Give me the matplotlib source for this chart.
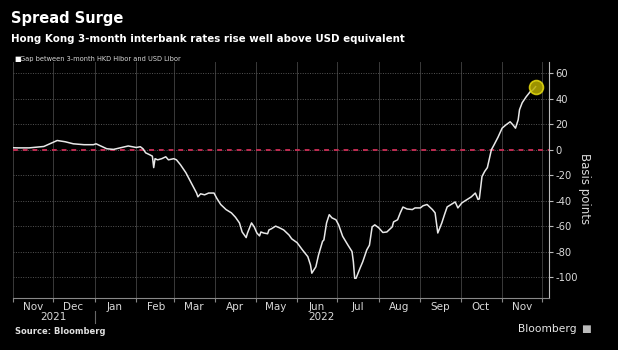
# -*- coding: utf-8 -*-
"""
plot.py

Recrea el grafico "Spread Surge" (Bloomberg): diferencia entre la Hibor
a 3 meses de HKD y la Libor en USD, en puntos basicos.
Guarda la figura como out.png (618x350 px).
"""

import pandas as pd
import matplotlib
matplotlib.use('Agg')
import matplotlib.pyplot as plt
import matplotlib.dates as mdates
import matplotlib.transforms as mtransforms

# --- Datos ---
fechas = [
    '2021-11-01', '2021-11-05', '2021-11-13', '2021-11-24', '2021-12-04',
    '2021-12-10', '2021-12-16', '2021-12-24', '2021-12-31', '2022-01-02',
    '2022-01-10', '2022-01-15', '2022-01-21', '2022-01-26', '2022-02-01',
    '2022-02-04', '2022-02-06', '2022-02-08', '2022-02-11', '2022-02-13',
    '2022-02-14', '2022-02-15', '2022-02-17', '2022-02-20', '2022-02-23',
    '2022-02-25', '2022-03-01', '2022-03-03', '2022-03-06', '2022-03-10',
    '2022-03-14', '2022-03-18', '2022-03-19', '2022-03-21', '2022-03-24',
    '2022-03-27', '2022-03-31', '2022-04-02', '2022-04-05', '2022-04-09',
    '2022-04-13', '2022-04-16', '2022-04-19', '2022-04-21', '2022-04-24',
    '2022-04-25', '2022-04-28', '2022-04-30', '2022-05-02', '2022-05-04',
    '2022-05-05', '2022-05-07', '2022-05-10', '2022-05-11', '2022-05-13',
    '2022-05-16', '2022-05-19', '2022-05-22', '2022-05-26', '2022-05-28',
    '2022-06-01', '2022-06-05', '2022-06-09', '2022-06-11', '2022-06-12',
    '2022-06-15', '2022-06-17', '2022-06-20', '2022-06-21', '2022-06-23',
    '2022-06-25', '2022-06-27', '2022-06-30', '2022-07-02', '2022-07-05',
    '2022-07-09', '2022-07-12', '2022-07-13', '2022-07-14', '2022-07-15',
    '2022-07-18', '2022-07-20', '2022-07-23', '2022-07-25', '2022-07-27',
    '2022-07-29', '2022-08-01', '2022-08-04', '2022-08-07', '2022-08-11',
    '2022-08-12', '2022-08-15', '2022-08-17', '2022-08-19', '2022-08-22',
    '2022-08-26', '2022-08-28', '2022-09-01', '2022-09-03', '2022-09-06',
    '2022-09-10', '2022-09-12', '2022-09-14', '2022-09-17', '2022-09-19',
    '2022-09-21', '2022-09-24', '2022-09-27', '2022-09-29', '2022-10-02',
    '2022-10-06', '2022-10-09', '2022-10-12', '2022-10-14', '2022-10-15',
    '2022-10-17', '2022-10-19', '2022-10-21', '2022-10-24', '2022-10-26',
    '2022-10-29', '2022-11-01', '2022-11-04', '2022-11-07', '2022-11-09',
    '2022-11-11', '2022-11-13', '2022-11-14', '2022-11-16', '2022-11-19',
    '2022-11-22', '2022-11-24', '2022-11-26',
]
spread_pb = [
    1.6, 1.5, 1.5, 2.6, 7.3,
    6.3, 4.7, 4.0, 4.0, 4.7,
    0.8, 0.3, 1.8, 3.0, 1.8,
    2.4, 0.8, -2.4, -3.9, -5.0,
    -14.0, -7.0, -7.9, -7.0, -5.5,
    -7.9, -7.0, -7.9, -11.8, -18.0,
    -26.0, -34.0, -37.0, -34.6, -35.4,
    -34.0, -34.0, -38.0, -43.0, -47.0,
    -49.6, -53.0, -57.5, -64.6, -69.0,
    -65.4, -57.5, -60.6, -65.4, -67.7,
    -64.6, -65.4, -66.0, -63.0, -62.0,
    -60.0, -61.4, -63.0, -67.0, -70.0,
    -73.0, -78.7, -84.0, -90.5, -97.0,
    -92.0, -82.7, -72.0, -70.9, -57.5,
    -51.0, -53.5, -55.0, -59.0, -68.0,
    -75.0, -80.0, -88.0, -101.0, -101.0,
    -93.0, -88.0, -78.7, -75.0, -60.6,
    -59.0, -61.4, -65.0, -64.6, -60.6,
    -56.7, -55.0, -49.6, -45.0, -46.5,
    -47.0, -45.7, -45.7, -44.0, -43.0,
    -47.0, -49.6, -65.4, -57.5, -51.0,
    -44.9, -43.0, -41.0, -45.7, -41.7,
    -39.0, -37.0, -34.0, -39.0, -38.6,
    -21.0, -17.0, -14.0, 0.0, 3.9,
    10.0, 17.0, 19.7, 22.0, 19.7,
    17.0, 23.6, 31.5, 37.0, 41.7,
    45.7, 47.0, 49.6,
]
y_ticks = [60, 40, 20, 0, -20, -40, -60, -80, -100]
anios = ['2021', '2022']

BG = '#000000'
TXT = '#d9d9d9'


def main() -> None:
    x = pd.to_datetime(fechas)

    fig = plt.figure(figsize=(6.18, 3.5), dpi=100, facecolor=BG)
    ax = fig.add_axes([13 / 618, 52 / 350, 536 / 618, 236 / 350])
    ax.set_facecolor(BG)

    # serie principal
    ax.plot(x, spread_pb, color='#e8e8e8', lw=1.1, zorder=3)
    # ultimo punto resaltado
    ax.plot(x[-1:], spread_pb[-1:], 'o', ms=10, mfc='#b8ad00', mec='#e6dc10',
            mew=1.2, alpha=0.85, zorder=4)
    # linea de cero
    ax.axhline(0, color='#c02c52', lw=1.4, ls=(0, (2.5, 2.5)), zorder=2)

    ax.set_xlim(pd.Timestamp('2021-11-01'), pd.Timestamp('2022-12-06'))
    ax.set_ylim(-116.5, 69)

    # eje y a la derecha
    ax.yaxis.tick_right()
    ax.set_yticks(y_ticks)
    ax.set_yticklabels([str(v) for v in y_ticks])
    ax.tick_params(axis='y', colors='#bbbbbb', labelcolor=TXT, labelsize=7.2,
                   length=3, width=0.8, pad=1.5)
    ax.grid(axis='y', color='#555555', lw=0.7, ls=(0, (1, 1.5)))

    # meses: ticks mayores al inicio, etiquetas a mitad de mes
    ax.xaxis.set_major_locator(mdates.MonthLocator())
    ax.xaxis.set_major_formatter(plt.NullFormatter())
    ax.xaxis.set_minor_locator(mdates.MonthLocator(bymonthday=16))
    ax.xaxis.set_minor_formatter(mdates.DateFormatter('%b'))
    ax.tick_params(axis='x', which='major', colors='#888888', length=3, width=0.8)
    ax.tick_params(axis='x', which='minor', length=0, labelcolor=TXT,
                   labelsize=7.5, pad=3)
    ax.grid(axis='x', which='major', color='#3a3a3a', lw=0.7)

    for lado in ['top', 'left']:
        ax.spines[lado].set_visible(False)
    ax.spines['right'].set_color('#bbbbbb')
    ax.spines['bottom'].set_color('#888888')

    # etiquetas de anio y separador
    trans = mtransforms.blended_transform_factory(ax.transData, fig.transFigure)
    ini, corte, fin = (pd.Timestamp('2021-11-01'), pd.Timestamp('2022-01-01'),
                       pd.Timestamp('2022-12-06'))
    pos_anios = [ini + (corte - ini) / 2, corte + (fin - corte) / 2]
    for pos, a in zip(pos_anios, anios):
        ax.text(pos, 1 - 317 / 350, a, transform=trans, color=TXT, fontsize=7.5,
                ha='center', va='center')
    xc = mdates.date2num(corte)
    ax.plot([xc, xc], [1 - 311 / 350, 1 - 323 / 350], transform=trans,
            color='#666666', lw=0.8, clip_on=False)

    fig.text(585 / 618, 1 - 189 / 350, 'Basis points', rotation=270, color=TXT,
             fontsize=8.5, ha='center', va='center')

    # titulos
    fig.text(11 / 618, 1 - 19 / 350, 'Spread Surge', color='white',
             fontsize=10.5, fontweight='bold', va='center')
    fig.text(11 / 618, 1 - 39 / 350,
             'Hong Kong 3-month interbank rates rise well above USD equivalent',
             color='white', fontsize=7.4, fontweight='bold', va='center')
    fig.text(14 / 618, 1 - 59 / 350, '\u25a0', color='white', fontsize=5,
             va='center')
    fig.text(20 / 618, 1 - 59 / 350, 'Gap between 3-month HKD Hibor and USD Libor',
             color=TXT, fontsize=4.8, va='center')

    fig.text(15 / 618, 1 - 331 / 350, 'Source: Bloomberg', color='#e0e0e0',
             fontsize=6, fontweight='bold', va='center')
    fig.text(577 / 618, 1 - 329 / 350, 'Bloomberg', color='#e8e8e8',
             fontsize=7.7, ha='right', va='center')
    fig.text(581 / 618, 1 - 329 / 350, '\u25a0', color='#bbbbbb', fontsize=7.5,
             va='center')

    fig.savefig('out.png', dpi=100, facecolor=BG)
    plt.close(fig)


if __name__ == '__main__':
    main()
